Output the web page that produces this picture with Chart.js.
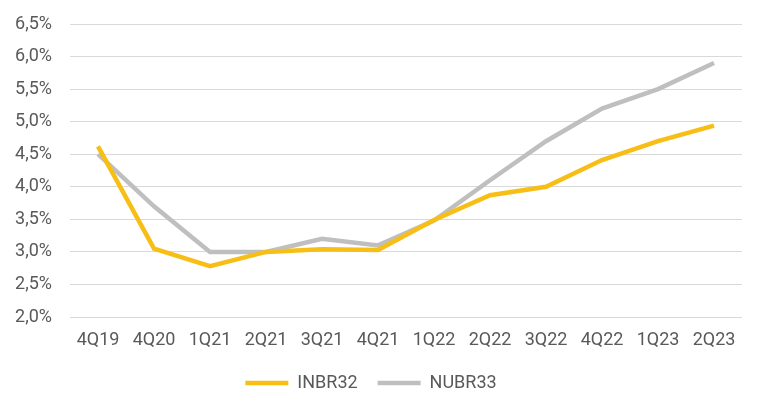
<!DOCTYPE html>
<html>
<head>
<meta charset="utf-8">
<script src="https://cdn.jsdelivr.net/npm/chart.js@4/dist/chart.umd.min.js"></script>
<style>
  html, body { margin: 0; padding: 0; background: #fff; }
  #wrap { width: 763px; height: 411px; }
</style>
</head>
<body>
<div id="wrap"><canvas id="chart"></canvas></div>
<script>
const categories = ['4Q19', '4Q20', '1Q21', '2Q21', '3Q21', '4Q21', '1Q22', '2Q22', '3Q22', '4Q22', '1Q23', '2Q23'];
const inbr32 = [4.62, 3.05, 2.78, 3.0, 3.04, 3.03, 3.49, 3.87, 4.0, 4.41, 4.70, 4.94];
const nubr33 = [4.5, 3.7, 3.0, 3.0, 3.2, 3.1, 3.48, 4.1, 4.7, 5.2, 5.5, 5.9];

const textColor = '#595959';
const font = { family: 'Roboto', size: 18 };

new Chart(document.getElementById('chart'), {
  type: 'line',
  data: {
    labels: categories,
    datasets: [
      { label: 'INBR32', data: inbr32, borderColor: '#F7BE16', backgroundColor: '#F7BE16', borderWidth: 4.5, pointRadius: 0, tension: 0 },
      { label: 'NUBR33', data: nubr33, borderColor: '#BFBFBF', backgroundColor: '#BFBFBF', borderWidth: 4.5, pointRadius: 0, tension: 0 },
    ],
  },
  options: {
    responsive: true,
    maintainAspectRatio: false,
    animation: false,
    layout: { padding: { top: 24, right: 21, bottom: 9, left: 0 } },
    plugins: {
      tooltip: { enabled: false },
      legend: {
        position: 'bottom',
        labels: {
          usePointStyle: true,
          pointStyle: 'line',
          pointStyleWidth: 43,
          padding: 20,
          color: textColor,
          font,
        },
      },
    },
    scales: {
      x: {
        offset: true,
        afterFit: (s) => { s.height = 37; s.paddingLeft = 0; s.paddingRight = 0; },
        grid: { display: false, drawTicks: false },
        border: { display: false },
        ticks: { color: textColor, font, padding: 13, maxRotation: 0 },
      },
      y: {
        min: 2.0,
        max: 6.5,
        afterFit: (s) => { s.width = 70; s.paddingTop = 0; s.paddingBottom = 0; },
        grid: { color: '#D9D9D9', lineWidth: 1, drawTicks: false },
        border: { display: false },
        ticks: {
          stepSize: 0.5,
          color: textColor,
          font,
          padding: 18,
          callback: (v) => v.toFixed(1).replace('.', ',') + '%',
        },
      },
    },
  },
});
</script>
</body>
</html>
